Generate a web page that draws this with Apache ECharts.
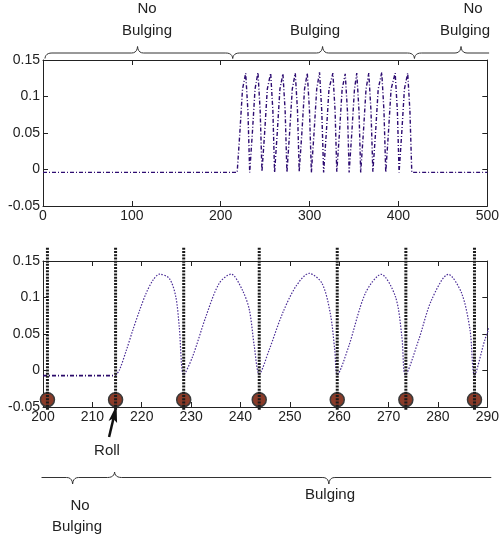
<!DOCTYPE html>
<html>
<head>
<meta charset="utf-8">
<script src="https://cdn.jsdelivr.net/npm/echarts@6/dist/echarts.min.js"></script>
<style>
  html, body { margin: 0; padding: 0; background: #fff; }
  #chart { width: 502px; height: 540px; }
</style>
</head>
<body>
<div id="chart"></div>
<script>
// Whole record: flat baseline, bulging oscillation, flat baseline again
const fullSignal = [
  [0, -0.004], [218.5, -0.004],
  [221.5, 0.05], [224.5, 0.11], [228.1, 0.132], [230.6, 0.08], [232.6, -0.004],
  [235.6, 0.05], [238.6, 0.11], [241.9, 0.133], [244.4, 0.08], [246.4, -0.003],
  [249.4, 0.05], [252.4, 0.11], [256.2, 0.132], [258.7, 0.08], [260.6, -0.004],
  [263.6, 0.05], [266.6, 0.11], [270.0, 0.131], [272.5, 0.08], [274.5, -0.004],
  [277.5, 0.05], [280.5, 0.11], [283.9, 0.132], [286.4, 0.08], [288.3, -0.003],
  [291.3, 0.05], [294.3, 0.11], [297.4, 0.132], [299.9, 0.08], [302.0, -0.004],
  [305.0, 0.05], [308.0, 0.11], [311.2, 0.133], [313.7, 0.08], [315.8, -0.004],
  [318.8, 0.05], [321.8, 0.11], [326.2, 0.132], [328.7, 0.08], [330.6, -0.003],
  [333.6, 0.05], [336.6, 0.11], [340.1, 0.131], [342.6, 0.08], [344.5, -0.004],
  [347.5, 0.05], [350.5, 0.11], [353.1, 0.132], [355.6, 0.08], [357.5, -0.004],
  [360.5, 0.05], [363.5, 0.11], [366.6, 0.132], [369.1, 0.08], [371.2, -0.003],
  [374.2, 0.05], [377.2, 0.11], [381.2, 0.133], [383.7, 0.08], [385.7, -0.004],
  [388.7, 0.05], [391.7, 0.11], [396.3, 0.132], [398.8, 0.08], [400.7, -0.004],
  [403.7, 0.05], [406.7, 0.11], [410.4, 0.132], [412.9, 0.08], [415.0, -0.004],
  [500, -0.004]
];

// Close-up 200..290: baseline before the first roll
const detailFlat = [[200, -0.007], [214.7, -0.007]];

// Close-up 200..290: bulging after the first roll
const detailWave = [
  [214.7, -0.007], [215.5, 0.001], [216.9, 0.028], [218.2, 0.0555], [219.6, 0.083],
  [220.9, 0.106], [222.3, 0.124], [223.6, 0.132], [225.6, 0.126], [226.9, 0.101],
  [227.6, 0.06], [228.5, -0.006],
  [230.3, 0.019], [233.0, 0.074], [235.7, 0.1195], [238.1, 0.132], [240.4, 0.110],
  [241.8, 0.083], [242.8, 0.033], [243.8, -0.005],
  [245.8, 0.028], [248.5, 0.078], [251.2, 0.115], [253.9, 0.133], [256.5, 0.1195],
  [258.2, 0.078], [259.1, 0.028], [259.6, -0.006],
  [261.9, 0.0326], [265.3, 0.1058], [268.5, 0.1317], [271.4, 0.101], [272.7, 0.046],
  [273.4, -0.006],
  [276.1, 0.042], [278.7, 0.0966], [282.1, 0.1317], [284.8, 0.1058], [286.5, 0.0555],
  [287.4, -0.006],
  [289.5, 0.042], [291.0, 0.07]
];

// Roll contact positions in the close-up
const rollPositions = [200.9, 214.7, 228.5, 243.8, 259.6, 273.5, 287.4];
const rollMarkerLevel = -0.04;
const rollLineTop = 0.168;
const rollLineBottom = -0.0555;

// Axis ranges
const fullXRange = [0, 500, 100];
const detailXRange = [200, 290, 10];
const yRange = [-0.05, 0.15, 0.05];

const FONT = '"Liberation Sans", Arial, sans-serif';
const INK = '#222';

const chart = echarts.init(document.getElementById('chart'), null, { renderer: 'canvas' });

function xAxisPair(gridIndex, range) {
  const base = {
    gridIndex, type: 'value', min: range[0], max: range[1], interval: range[2],
    splitLine: { show: false },
    axisLine: { show: true, onZero: false, lineStyle: { color: INK, width: 1 } },
    axisTick: { show: true, inside: true, length: 5, lineStyle: { color: INK } }
  };
  return [
    Object.assign({}, base, {
      position: 'bottom',
      axisLabel: { color: INK, fontSize: 14, fontFamily: FONT, margin: 3 }
    }),
    Object.assign({}, base, { position: 'top', axisLabel: { show: false } })
  ];
}

function yAxisPair(gridIndex) {
  const base = {
    gridIndex, type: 'value', min: yRange[0], max: yRange[1], interval: yRange[2],
    splitLine: { show: false },
    axisLine: { show: true, onZero: false, lineStyle: { color: INK, width: 1 } },
    axisTick: { show: true, inside: true, length: 5, lineStyle: { color: INK } }
  };
  return [
    Object.assign({}, base, {
      position: 'left',
      axisLabel: { color: INK, fontSize: 14, fontFamily: FONT, margin: 3,
        formatter: v => String(+v.toFixed(2)) }
    }),
    Object.assign({}, base, { position: 'right', axisLabel: { show: false } })
  ];
}

const series = [
  {
    type: 'line', xAxisIndex: 0, yAxisIndex: 0, data: fullSignal,
    showSymbol: false, silent: true,
    lineStyle: { color: '#2e0d72', width: 1.4, type: [4, 2, 1, 2] }
  },
  {
    type: 'line', xAxisIndex: 2, yAxisIndex: 2, data: detailFlat,
    showSymbol: false, silent: true,
    lineStyle: { color: '#2a0a6a', width: 1.6, type: [4, 2, 1, 2] }
  },
  {
    type: 'line', xAxisIndex: 2, yAxisIndex: 2, data: detailWave,
    showSymbol: false, silent: true, smooth: 0.3,
    lineStyle: { color: '#4a2c96', width: 1.2, type: [1.5, 1.5] }
  },
  {
    type: 'scatter', xAxisIndex: 2, yAxisIndex: 2,
    data: rollPositions.map(x => [x, rollMarkerLevel]),
    symbol: 'circle', symbolSize: 14, silent: true, z: 3,
    itemStyle: { color: '#8a3b28', borderColor: '#3a3a3a', borderWidth: 1.5, opacity: 1 }
  }
];

rollPositions.forEach(x => {
  series.push({
    type: 'line', xAxisIndex: 2, yAxisIndex: 2, clip: false,
    data: [[x, rollLineTop], [x, rollLineBottom]],
    showSymbol: false, silent: true, z: 4,
    lineStyle: { color: '#1a1a1a', width: 3, type: [2, 1.2] }
  });
});

chart.setOption({
  animation: false,
  backgroundColor: '#fff',
  grid: [
    { left: 43, right: 14, top: 60, height: 146 },
    { left: 43, right: 13, top: 261, height: 146 }
  ],
  xAxis: [...xAxisPair(0, fullXRange), ...xAxisPair(1, detailXRange)],
  yAxis: [...yAxisPair(0), ...yAxisPair(1)],
  series
});

// Curly brace built from short quadratic segments
function quad(p0, c, p1, n) {
  const pts = [];
  for (let i = 1; i <= n; i++) {
    const t = i / n, u = 1 - t;
    pts.push([u * u * p0[0] + 2 * u * t * c[0] + t * t * p1[0],
              u * u * p0[1] + 2 * u * t * c[1] + t * t * p1[1]]);
  }
  return pts;
}
function brace(x1, x2, xt, y, dir, curlL, curlR) {
  // dir = -1: tip points up, ends curl down; dir = 1: the reverse
  const tipH = 6.5 * dir, endH = -5.5 * dir;
  let pts = [];
  if (curlL) {
    pts.push([x1, y + endH]);
    pts = pts.concat(quad([x1, y + endH], [x1 + 0.5, y], [x1 + 7, y], 6));
  } else {
    pts.push([x1, y]);
  }
  pts.push([xt - 6, y]);
  pts = pts.concat(quad([xt - 6, y], [xt - 0.5, y], [xt, y + tipH], 5));
  pts = pts.concat(quad([xt, y + tipH], [xt + 0.5, y], [xt + 6, y], 5));
  if (curlR) {
    pts.push([x2 - 7, y]);
    pts = pts.concat(quad([x2 - 7, y], [x2 - 0.5, y], [x2, y + endH], 6));
  } else {
    pts.push([x2, y]);
  }
  return {
    type: 'polyline', silent: true,
    shape: { points: pts },
    style: { stroke: '#333', lineWidth: 1, fill: null }
  };
}
function label(text, x, y) {
  return {
    type: 'text', silent: true, x, y,
    style: { text, fill: INK, font: '15px ' + FONT, align: 'center', verticalAlign: 'middle' }
  };
}

const px = (gi, x) => chart.convertToPixel({ xAxisIndex: gi }, x);

const g = [];
// Regions above the whole record
g.push(brace(px(0, 2.2), px(0, 213.5), px(0, 106.4), 53, -1, true, true));
g.push(brace(px(0, 213.5), px(0, 418), px(0, 314.6), 53, -1, true, true));
g.push(brace(px(0, 418), px(0, 502), px(0, 470.4), 53, -1, true, false));
g.push(label('No', 147, 9), label('Bulging', 147, 31));
g.push(label('Bulging', 315, 31));
g.push(label('No', 473, 9), label('Bulging', 465, 31));

// Regions below the close-up
g.push(brace(px(2, 199.7), px(2, 214.5), px(2, 206.0), 477.5, 1, false, true));
g.push(brace(px(2, 214.5), px(2, 290.8), px(2, 257.9), 477.5, 1, true, false));
g.push(label('No', 80, 506), label('Bulging', 77, 527));
g.push(label('Bulging', 330, 495));

// Arrow pointing at the first roll
const tipX = px(2, 214.7) + 1;
const tipY = 405;
g.push({
  type: 'line', silent: true,
  shape: { x1: tipX - 7.5, y1: 437, x2: tipX - 3, y2: 418 },
  style: { stroke: '#111', lineWidth: 2.5 }
});
g.push({
  type: 'polygon', silent: true,
  shape: { points: [[tipX, tipY], [tipX - 8, 421], [tipX - 3.5, 418.5], [tipX + 0.5, 423]] },
  style: { fill: '#111' }
});
g.push(label('Roll', 107, 451));

chart.setOption({ graphic: g });
</script>
</body>
</html>
